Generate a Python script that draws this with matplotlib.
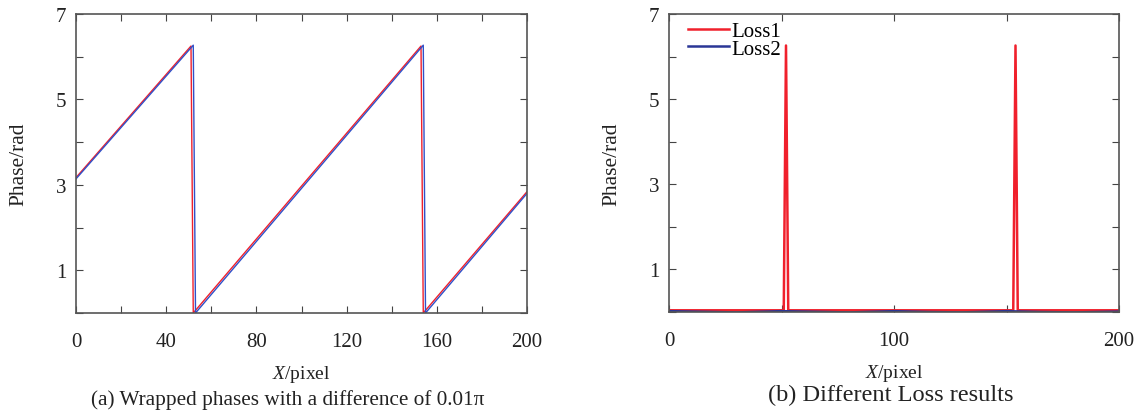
import matplotlib
matplotlib.use("Agg")
import matplotlib.pyplot as plt
from matplotlib.ticker import MultipleLocator

plt.rcParams["font.family"] = ["Liberation Serif", "DejaVu Serif"]
plt.rcParams["mathtext.fontset"] = "custom"
plt.rcParams["mathtext.it"] = "Liberation Serif:italic"
plt.rcParams["mathtext.rm"] = "Liberation Serif"

# (a) wrapped phases, vertices of the sawtooth lines
phase1_x = [0, 51, 52, 153, 154, 200]
phase1_y = [3.17, 6.25, 0.0, 6.25, 0.0, 2.84]
phase2_x = [0, 52, 53, 154, 155, 200]
phase2_y = [3.14, 6.27, 0.0, 6.27, 0.0, 2.80]

# (b) loss results
loss1_x = [0, 51, 52, 53, 153, 154, 155, 200]
loss1_y = [0.04, 0.04, 6.26, 0.04, 0.04, 6.26, 0.04, 0.04]
loss2_x = [0, 10, 30, 50, 60, 80, 100, 115, 130, 150, 165, 180, 200]
loss2_y = [0.02, 0.01, -0.01, 0.02, 0.01, -0.01, 0.02, 0.0, -0.01, 0.02, 0.0, -0.01, 0.01]

red = "#f0202c"
blue = "#2a3696"
dark = "#222222"

fig = plt.figure(figsize=(11.39, 4.14), dpi=100)
ax1 = fig.add_axes([76 / 1139, 100 / 414, 451 / 1139, 299 / 414])
ax2 = fig.add_axes([669 / 1139, 101 / 414, 450 / 1139, 298 / 414])

ax1.plot(phase1_x, phase1_y, color=red, lw=1.0)
ax1.plot(phase2_x, phase2_y, color="#3050c8", lw=1.0)
ax1.set_xlim(0, 200)
ax1.xaxis.set_major_locator(MultipleLocator(40))
ax1.xaxis.set_minor_locator(MultipleLocator(20))

ax2.plot(loss1_x, loss1_y, color=red, lw=1.8, label="Loss1")
ax2.plot(loss2_x, loss2_y, color=blue, lw=1.8, label="Loss2")
ax2.set_xlim(0, 200)
ax2.xaxis.set_major_locator(MultipleLocator(100))
ax2.xaxis.set_minor_locator(MultipleLocator(50))
ax2.legend(loc="upper left", frameon=False, fontsize=15, handlelength=2.0,
           handletextpad=0.12, labelspacing=-0.1, borderaxespad=0.1,
           bbox_to_anchor=(0.018, 1.01))

for ax in (ax1, ax2):
    ax.set_ylim(0, 7)
    ax.set_yticks([1, 3, 5, 7])
    ax.yaxis.set_minor_locator(MultipleLocator(1))
    ax.tick_params(which="both", direction="in", top=True, right=True,
                   labelsize=15, colors="#444444", labelcolor=dark)
    ax.tick_params(which="both", length=5, width=0.8)
    ax.tick_params(axis="x", which="major", pad=13.5)
    ax.tick_params(axis="y", which="major", pad=7)
    for s in ax.spines.values():
        s.set_color("#555555")
        s.set_linewidth(1.2)
    ax.set_xlabel(r"$X$/pixel", fontsize=14, color=dark, labelpad=8.5)
    ax.set_ylabel("Phase/rad", fontsize=15.5, color=dark, labelpad=20)

fig.text(288 / 1139, 14 / 414, "(a) Wrapped phases with a difference of 0.01\u03c0",
         ha="center", va="center", fontsize=15.3, color=dark)
fig.text(891 / 1139, 19 / 414, "(b) Different Loss results",
         ha="center", va="center", fontsize=17.6, color=dark)

fig.savefig("out.png", dpi=100)
